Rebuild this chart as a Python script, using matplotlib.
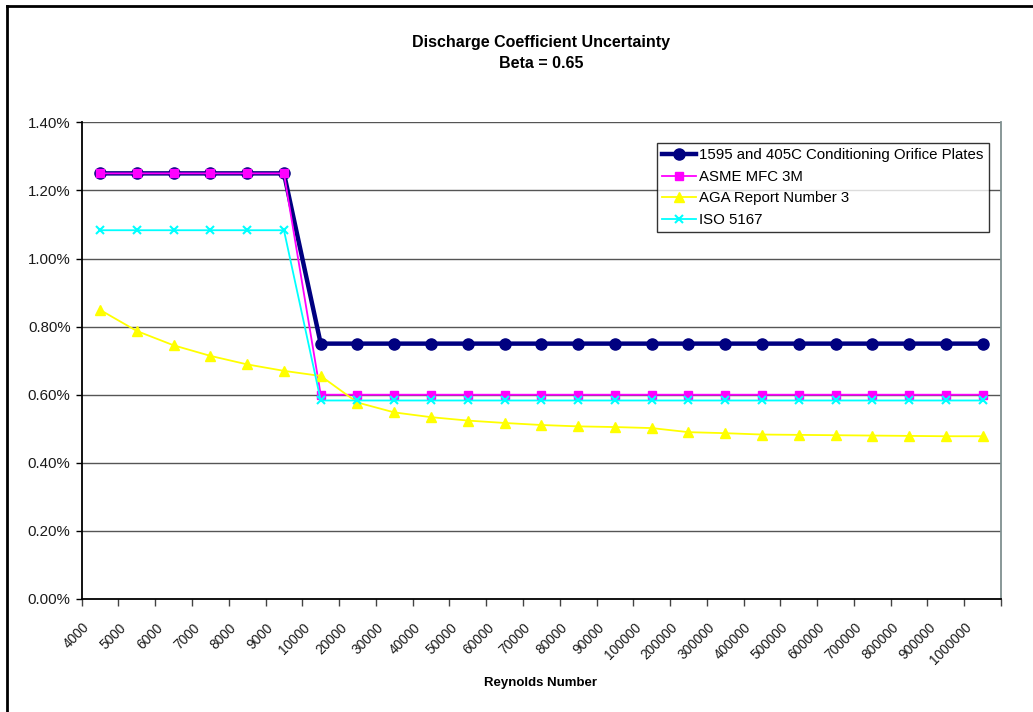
import matplotlib
matplotlib.use("Agg")
import matplotlib.pyplot as plt
from matplotlib.lines import Line2D
import numpy as np

plt.rcParams['font.family'] = ['Liberation Sans', 'DejaVu Sans']

reynolds = ["4000", "5000", "6000", "7000", "8000", "9000", "10000",
            "20000", "30000", "40000", "50000", "60000", "70000", "80000", "90000",
            "100000", "200000", "300000", "400000", "500000", "600000", "700000",
            "800000", "900000", "1000000"]

# uncertainty in percent
conditioning = [1.25] * 6 + [0.75] * 19
asme_mfc = [1.25] * 6 + [0.60] * 19
aga_report = [0.849, 0.787, 0.745, 0.714, 0.689, 0.670, 0.655, 0.577, 0.548,
              0.534, 0.524, 0.517, 0.511, 0.507, 0.505, 0.502, 0.490, 0.487,
              0.483, 0.482, 0.481, 0.480, 0.479, 0.478, 0.478]
iso_5167 = [1.083] * 6 + [0.583] * 19

W, H = 1033, 712
fig = plt.figure(figsize=(W / 100, H / 100), dpi=100)
ax = fig.add_axes([81.7 / W, 1 - 599 / H, (1001 - 81.7) / W, (599 - 122.3) / H])

x = np.arange(len(reynolds))

ax.plot(x, conditioning, color='#000080', lw=3.2, marker='o', ms=8,
        label='1595 and 405C Conditioning Orifice Plates', zorder=3)
ax.plot(x, asme_mfc, color='#FF00FF', lw=1.3, marker='s', ms=5.5,
        label='ASME MFC 3M', zorder=4)
ax.plot(x, aga_report, color='#FFFF00', lw=1.3, marker='^', ms=6.5,
        label='AGA Report Number 3', zorder=5)
ax.plot(x, iso_5167, color='#00FFFF', lw=1.3, marker='x', ms=6, mew=1.5,
        label='ISO 5167', zorder=6)

ax.set_xlim(-0.5, len(reynolds) - 0.5)
ax.set_ylim(0, 1.4)

# y axis
yt = np.arange(0, 1.41, 0.2)
ax.set_yticks(yt)
ax.set_yticklabels([f"{v:.2f}%" for v in yt], fontsize=10.8, color='#1a1a1a')
ax.tick_params(axis='y', length=4, width=1, pad=4)
for v in yt[1:]:
    ax.axhline(v, color='#555555', lw=1.0, zorder=1)

# x axis: ticks between categories, labels near the centres
ax.set_xticks(np.arange(-0.5, len(reynolds), 1.0))
ax.set_xticklabels([])
ax.tick_params(axis='x', which='major', length=5, width=1, color='#444444')
ax.set_xticks(x - 0.35, minor=True)
ax.set_xticklabels(reynolds, minor=True, rotation=45, ha='right', va='center',
                   rotation_mode='anchor', fontsize=9.8, color='#1a1a1a')
ax.tick_params(axis='x', which='minor', length=0, pad=19)

for side in ['left', 'bottom']:
    ax.spines[side].set_color('black')
    ax.spines[side].set_linewidth(1.3)
ax.spines['top'].set_visible(False)
ax.spines['right'].set_color('#7f9090')
ax.spines['right'].set_linewidth(1.3)

leg = ax.legend(loc='upper right', bbox_to_anchor=(989 / W, 1 - 143 / H),
                bbox_transform=fig.transFigure, fontsize=10.8, frameon=True,
                fancybox=False, edgecolor='black', borderaxespad=0,
                handlelength=2.3, handletextpad=0.2, labelspacing=0.5,
                borderpad=0.35)
leg.get_frame().set_linewidth(1.0)

fig.text(541 / W, 1 - 43 / H, "Discharge Coefficient Uncertainty", ha='center',
         va='center', fontsize=11.5, fontweight='bold')
fig.text(541 / W, 1 - 64 / H, "Beta = 0.65", ha='center', va='center',
         fontsize=11.5, fontweight='bold')
fig.text(541 / W, 1 - 683 / H, "Reynolds Number", ha='center', va='center',
         fontsize=9.5, fontweight='bold')

# outer frame (top and left edges)
fig.add_artist(Line2D([6.5 / W, 6.5 / W], [0, 1 - 6 / H], color='black', lw=2,
                      transform=fig.transFigure))
fig.add_artist(Line2D([6.5 / W, 1], [1 - 6 / H, 1 - 6 / H], color='black', lw=2,
                      transform=fig.transFigure))

fig.savefig("out.png", dpi=100)
